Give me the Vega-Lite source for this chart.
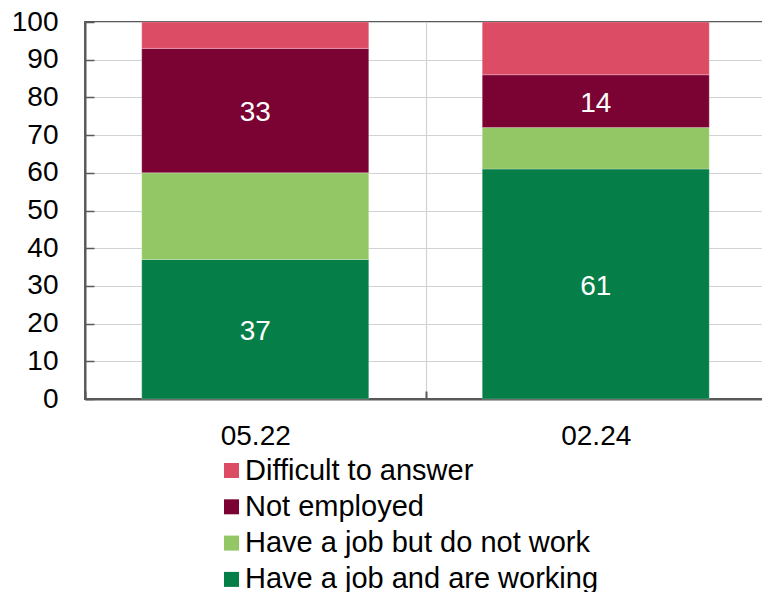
{
  "$schema": "https://vega.github.io/schema/vega-lite/v6.json",
  "width": 681,
  "height": 377,
  "autosize": {"type": "none"},
  "padding": {"left": 85, "top": 22, "right": 0, "bottom": 193},
  "config": {
    "font": "Liberation Sans",
    "view": {"stroke": "#595959", "strokeWidth": 2},
    "axis": {"labelFont": "Liberation Sans", "labelColor": "#000000"}
  },
  "data": {
    "values": [
      {"date": "05.22", "cat": "Have a job and are working", "value": 37, "order": 1, "label": "37"},
      {"date": "05.22", "cat": "Have a job but do not work", "value": 23, "order": 2, "label": ""},
      {"date": "05.22", "cat": "Not employed", "value": 33, "order": 3, "label": "33"},
      {"date": "05.22", "cat": "Difficult to answer", "value": 7, "order": 4, "label": ""},
      {"date": "02.24", "cat": "Have a job and are working", "value": 61, "order": 1, "label": "61"},
      {"date": "02.24", "cat": "Have a job but do not work", "value": 11, "order": 2, "label": ""},
      {"date": "02.24", "cat": "Not employed", "value": 14, "order": 3, "label": "14"},
      {"date": "02.24", "cat": "Difficult to answer", "value": 14, "order": 4, "label": ""}
    ]
  },
  "transform": [
    {"stack": "value", "groupby": ["date"], "sort": [{"field": "order", "order": "ascending"}], "as": ["y0", "y1"]},
    {"calculate": "(datum.y0 + datum.y1) / 2", "as": "mid"}
  ],
  "encoding": {
    "x": {
      "field": "date", "type": "nominal", "sort": ["05.22", "02.24"],
      "scale": {"paddingInner": 0, "paddingOuter": 0},
      "axis": {
        "title": null, "labelAngle": 0, "labelFontSize": 28, "labelPadding": 31,
        "domainColor": "#595959", "domainWidth": 2,
        "tickColor": "#595959", "tickWidth": 2, "tickSize": -8, "tickBand": "extent",
        "grid": true, "gridColor": "#d0d3d6", "gridWidth": 1.2
      }
    }
  },
  "layer": [
    {
      "mark": {"type": "bar", "width": {"band": 0.6667}, "stroke": "#ffffff", "strokeWidth": 0.4, "strokeOpacity": 0.6},
      "encoding": {
        "y": {
          "field": "y0", "type": "quantitative",
          "scale": {"domain": [0, 100], "nice": false},
          "axis": {
            "title": null, "values": [0, 10, 20, 30, 40, 50, 60, 70, 80, 90, 100],
            "labelFontSize": 28, "labelPadding": 36, "labelOverlap": false, "labelFlush": false,
            "domainColor": "#595959", "domainWidth": 2,
            "tickColor": "#595959", "tickWidth": 1.5, "tickSize": -9,
            "grid": true, "gridColor": "#d0d3d6", "gridWidth": 1.2
          }
        },
        "y2": {"field": "y1"},
        "color": {
          "field": "cat", "type": "nominal",
          "scale": {
            "domain": ["Difficult to answer", "Not employed", "Have a job but do not work", "Have a job and are working"],
            "range": ["#DC4D65", "#7B0333", "#93C765", "#057E47"]
          },
          "legend": {
            "title": null, "orient": "none", "legendX": 132, "legendY": 434, "padding": 0,
            "symbolType": "square", "symbolSize": 225, "symbolStrokeWidth": 0,
            "labelFontSize": 29, "labelFont": "Liberation Sans", "labelColor": "#000000",
            "labelOffset": -1, "rowPadding": 6.3, "labelLimit": 600
          }
        }
      }
    },
    {
      "mark": {"type": "text", "color": "#ffffff", "fontSize": 28, "font": "Liberation Sans", "baseline": "middle", "dy": 2.5},
      "encoding": {
        "y": {
          "field": "mid", "type": "quantitative",
          "scale": {"domain": [0, 100], "nice": false},
          "axis": {
            "title": null, "values": [0, 10, 20, 30, 40, 50, 60, 70, 80, 90, 100],
            "labelFontSize": 28, "labelPadding": 36, "labelOverlap": false, "labelFlush": false,
            "domainColor": "#595959", "domainWidth": 2,
            "tickColor": "#595959", "tickWidth": 1.5, "tickSize": -9,
            "grid": true, "gridColor": "#d0d3d6", "gridWidth": 1.2
          }
        },
        "text": {"field": "label"}
      }
    }
  ]
}
